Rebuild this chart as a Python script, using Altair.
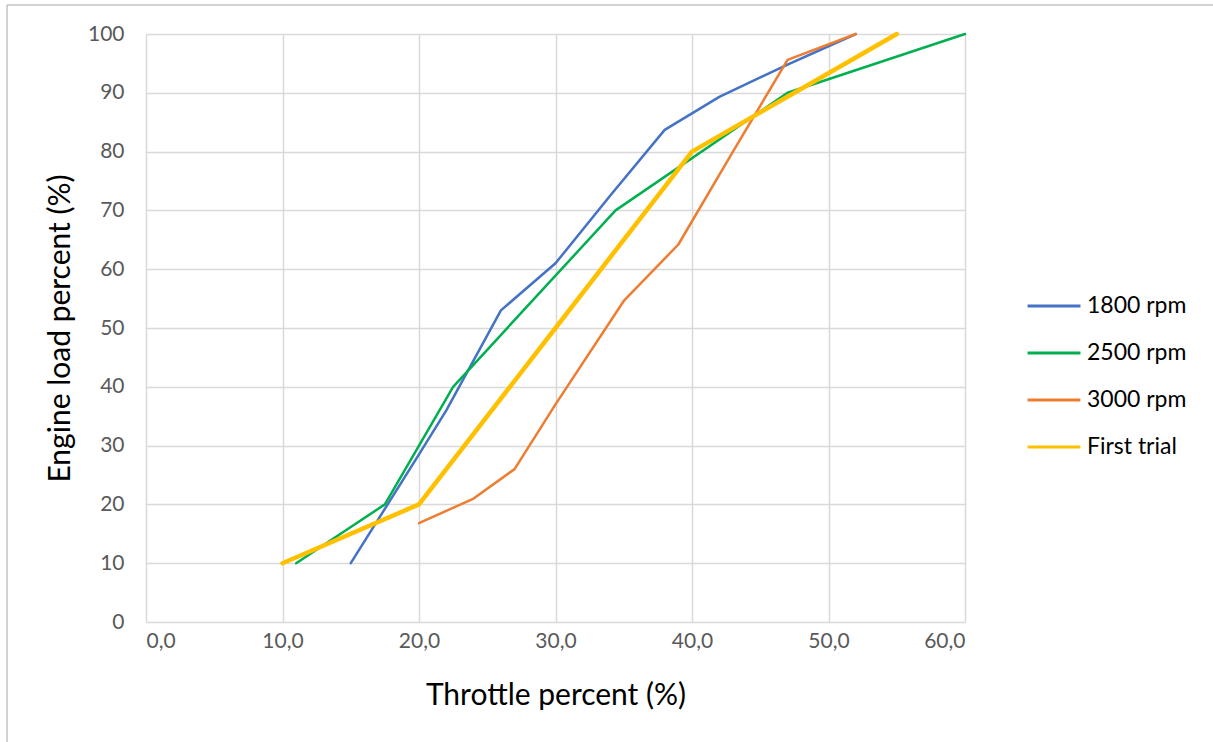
import altair as alt
import pandas as pd

# Throttle (%) vs engine load (%) for each engine speed
x_1800 = [15, 20, 22, 26, 30, 34, 38, 42, 47, 52]
y_1800 = [10, 28.5, 36, 53, 61, 72.5, 83.7, 89.3, 94.8, 100]

x_2500 = [11, 17.5, 22.5, 34.4, 47, 60]
y_2500 = [10, 20, 40, 70, 90, 100]

x_3000 = [20, 24, 27, 30, 35, 39, 43, 47, 52]
y_3000 = [16.8, 21, 26, 37, 54.6, 64.2, 80, 95.6, 100]

x_trial = [10, 20, 30, 40, 55]
y_trial = [10, 20, 50, 80, 100]

series_names = ["1800 rpm", "2500 rpm", "3000 rpm", "First trial"]
series_colors = ["#4472C4", "#00B050", "#ED7D31", "#FFC000"]
series_widths = [2.5, 2.5, 2.5, 4.5]

rows = []
for name, xs, ys in zip(series_names,
                        [x_1800, x_2500, x_3000, x_trial],
                        [y_1800, y_2500, y_3000, y_trial]):
    for i, (a, b) in enumerate(zip(xs, ys)):
        rows.append({"series": name, "throttle": a, "load": b, "idx": i})
df = pd.DataFrame(rows)

FONT = "Lato"

x_enc = alt.X(
    "throttle:Q",
    scale=alt.Scale(domain=[0, 60], nice=False),
    axis=alt.Axis(
        values=[0, 10, 20, 30, 40, 50, 60],
        labelExpr="replace(format(datum.value, '.1f'), '.', ',')",
        title="Throttle percent (%)",
        titleFontSize=30, titleFont=FONT, titleFontWeight="normal",
        titleColor="#000000", titlePadding=29,
        labelFontSize=21, labelFont=FONT, labelColor="#595959",
        labelPadding=8, ticks=False, domain=False,
        gridColor="#D9D9D9", gridWidth=1.5,
    ),
)
y_enc = alt.Y(
    "load:Q",
    scale=alt.Scale(domain=[0, 100], nice=False),
    axis=alt.Axis(
        values=list(range(0, 101, 10)),
        title="Engine load percent (%)",
        titleFontSize=30, titleFont=FONT, titleFontWeight="normal",
        titleColor="#000000", titlePadding=12,
        labelFontSize=21, labelFont=FONT, labelColor="#595959",
        labelPadding=22, ticks=False, domain=False,
        gridColor="#D9D9D9", gridWidth=1.5,
    ),
)

lines = []
for name, col, w in zip(series_names, series_colors, series_widths):
    lines.append(
        alt.Chart(df[df["series"] == name]).mark_line(
            strokeWidth=w, strokeJoin="round", strokeCap="round"
        ).encode(
            x=x_enc,
            y=y_enc,
            order="idx:Q",
            color=alt.Color(
                "series:N",
                scale=alt.Scale(domain=series_names, range=series_colors),
                legend=alt.Legend(
                    title=None, orient="none", legendX=880, legendY=244,
                    symbolType="stroke", symbolSize=2800,
                    symbolStrokeWidth=3, labelFontSize=23, labelFont=FONT,
                    labelColor="#000000", rowPadding=7, labelOffset=5,
                ),
            ),
        )
    )

# Chart frame
frame = alt.Chart(pd.DataFrame({"k": [0]})).mark_rect(
    fill=None, stroke="#A6A6A6", strokeWidth=1
).encode(
    x=alt.value(-139), x2=alt.value(1070), y=alt.value(-29), y2=alt.value(720)
)

chart = alt.layer(frame, *lines).properties(
    width=819, height=588,
    autosize=alt.AutoSizeParams(type="none"),
    padding={"left": 146, "top": 34, "right": 248, "bottom": 120},
    background="#FFFFFF",
).configure_view(stroke=None)

chart.save("out.html", embed_options={"renderer": "svg", "actions": False})
